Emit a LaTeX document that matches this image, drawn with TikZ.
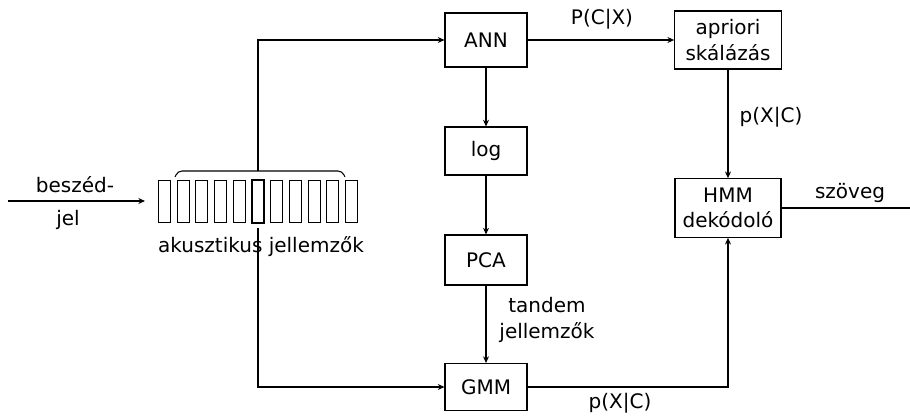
\documentclass[tikz,border=0pt]{standalone}
\usepackage{fontspec}
\setmainfont{DejaVu Sans}
\usetikzlibrary{arrows.meta}

\begin{document}
\begin{tikzpicture}[x=0.75pt,y=-0.75pt,
    font=\fontsize{15}{19}\selectfont,
    blokk/.style={draw,line width=0.8pt,minimum width=61.5pt,minimum height=36pt,inner sep=0pt,align=center},
    sav/.style={draw,line width=0.75pt,minimum width=9pt,minimum height=32pt,inner sep=0pt},
    vonal/.style={line width=0.8pt},
    nyil/.style={vonal,-{Stealth[length=5pt,width=4.5pt]}}]
        \useasboundingbox (0,0) rectangle (910,417);
        % Draw the blocks
        \node[blokk,minimum height=40.5pt] (ann) at (486,40) {ANN};
        \node[blokk] (log) at (486,151) {log};
        \node[blokk,minimum height=37.5pt] (pca) at (486,260) {PCA};
        \node[blokk,minimum height=35.25pt] (gmm) at (486,387) {GMM};
        \node[blokk,minimum width=80pt,minimum height=43.5pt] (apriori) at (728,40) {apriori\\skálázás};
        \node[blokk,minimum width=79.5pt,minimum height=44pt] (hmm) at (728,208) {HMM\\dekódoló};
        % Draw the feature vectors
        \foreach \i in {0,...,10}
            \node[sav] (sav\i) at (164.5+18.7*\i,201.5) {};
        \node[sav,line width=2pt] at (sav5) {};
        \draw[vonal,rounded corners=3pt] (175,177) -- (178,171) -- (342,171) -- (345,177);
        \coordinate (fent) at (258,171);
        \coordinate (lent) at (258,228);
        \node (akusztikus) at (261,247) {akusztikus jellemzők};
        % Draw speech input
        \coordinate (bemenet) at (8,201);
        \coordinate (jelvege) at (145,201);
        \draw[nyil] (bemenet) -- (jelvege);
        \node (beszed) at (75,185) {beszéd-};
        \node (jel) at (68,220) {jel};
        % Draw the connections
        \draw[nyil] (fent) |- (ann.west);
        \draw[nyil] (lent) |- (gmm.west);
        \draw[nyil] (ann) -- (log);
        \draw[nyil] (log) -- (pca);
        \draw[nyil] (pca) -- (gmm);
        \draw[nyil] (ann) -- (apriori);
        \draw[nyil] (apriori) -- (hmm);
        \draw[nyil] (gmm.east) -| (hmm.south);
        \coordinate (kimenet) at (910,208);
        \draw[vonal] (hmm.east) -- (kimenet);
        % Draw the labels
        \node (pcx) at (602,19) {P(C|X)};
        \node (pxc) at (771,117) {p(X|C)};
        \node[align=center] (tandem) at (547,320) {tandem\\jellemzők};
        \node (pxclent) at (620,403) {p(X|C)};
        \node (szoveg) at (850,193) {szöveg};
    \end{tikzpicture}
\end{document}
